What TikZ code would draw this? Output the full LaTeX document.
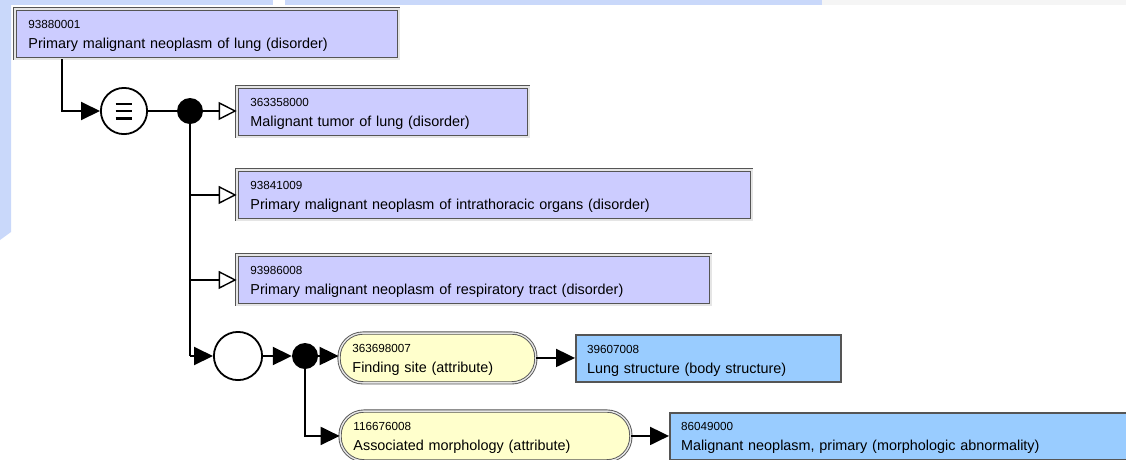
\documentclass[tikz,border=0pt]{standalone}
\usepackage{fontspec}
\setmainfont{Liberation Sans}
\usetikzlibrary{arrows.meta,positioning}
\definecolor{conceptfill}{HTML}{CCCCFF}
\definecolor{attrfill}{HTML}{FFFFCC}
\definecolor{valuefill}{HTML}{99CCFF}
\definecolor{framegray}{HTML}{555555}
\definecolor{bandblue}{HTML}{C9D8FA}
\newcommand{\idsize}{\fontsize{11.7}{20}\selectfont}
\newcommand{\sctlabel}[2]{\rule{0pt}{13pt}{\idsize #1}\\#2\rule[-3.5pt]{0pt}{3.5pt}}
\tikzset{
  sctbase/.style={anchor=north west, align=left, inner ysep=0pt, font=\fontsize{14.4}{20}\selectfont},
  concept/.style={sctbase, draw=framegray, double=black!10, double distance=1.4pt, line width=0.9pt,
    fill=conceptfill, inner xsep=13.4pt, minimum height=49.8pt, text width=#1},
  attribute/.style={sctbase, draw=framegray, double=black!10, double distance=1.4pt, line width=0.9pt,
    fill=attrfill, rounded corners=24pt, inner xsep=13.4pt, minimum height=49.8pt, text width=#1},
  valuebox/.style={sctbase, draw=framegray, line width=2pt, fill=valuefill, inner xsep=11pt,
    minimum height=47pt, text width=#1},
  opcircle/.style={circle, draw=black, line width=1.8pt, fill=white, minimum size=46.2pt, inner sep=0pt},
  joint/.style={circle, fill=black, minimum size=26pt, inner sep=0pt},
  conn/.style={line width=2pt},
  isa/.style={conn, -{Triangle[open, length=18pt, width=18pt, line width=1.4pt, fill=white]}},
  rel/.style={conn, -{Triangle[length=19pt, width=18pt]}}
}
\begin{document}
\begin{tikzpicture}[x=1pt,y=-1pt]
  \useasboundingbox (0,0) rectangle (1126,459);
  \clip (0,0) rectangle (1126,459);
  % window background
  \fill[bandblue] (0,0) -- (11,0) -- (11,232) -- (0,240) -- cycle;
  \fill[bandblue] (0,0) rectangle (273,5);
  \fill[bandblue] (285,0) rectangle (822,5);
  \fill[black!4] (822,0) rectangle (1126,5);

  % concepts
  \node[concept=357pt] (lungneo) at (14.6,8.6) {\sctlabel{93880001}{Primary malignant neoplasm of lung (disorder)}};
  \node[opcircle] (eqv) at (124,111) {};
  \foreach \dy in {-7.3,0,7.3}
    \draw[line width=2.4pt] ([xshift=-8.4pt,yshift=\dy pt]eqv.center) -- ([xshift=8.4pt,yshift=\dy pt]eqv.center);
  \node[joint] (isajoin) at (190,111) {};
  \node[concept=265pt] (maltumor) at (236.6,86.6) {\sctlabel{363358000}{Malignant tumor of lung (disorder)}};
  \node[concept=488pt] (intrathor) at (236.6,169.6) {\sctlabel{93841009}{Primary malignant neoplasm of intrathoracic organs (disorder)}};
  \node[concept=447pt] (resptract) at (236.6,254.6) {\sctlabel{93986008}{Primary malignant neoplasm of respiratory tract (disorder)}};

  % attribute group
  \node[opcircle, minimum size=48.2pt] (grp) at (238,356) {};
  \node[joint] (rolejoin) at (305,356) {};
  \node[attribute=170pt] (findsite) at (338.6,332.6) {\sctlabel{363698007}{Finding site (attribute)}};
  \node[valuebox=243pt] (lungstruct) at (575,334) {\sctlabel{39607008}{Lung structure (body structure)}};
  \node[attribute=264pt] (assocmorph) at (339.6,410.6) {\sctlabel{116676008}{Associated morphology (attribute)}};
  \node[valuebox=498pt] (malneo) at (669,411.5) {\sctlabel{86049000}{Malignant neoplasm, primary (morphologic abnormality)}};

  % connectors
  \draw[rel] ([xshift=47.4pt]lungneo.south west) |- (eqv);
  \draw[conn, line width=1.5pt] (eqv) -- (isajoin);
  \draw[isa] (isajoin) -- (isajoin -| maltumor.west);
  \draw[conn] (isajoin) -- (isajoin |- grp);
  \draw[isa] (isajoin |- intrathor.west) -- (intrathor.west);
  \draw[isa] (isajoin |- resptract.west) -- (resptract.west);
  \draw[rel] (isajoin |- grp) -- (grp);
  \draw[rel] (grp) -- (rolejoin);
  \draw[rel] (rolejoin) -- (rolejoin -| findsite.west);
  \draw[rel] (findsite.east) -- (findsite.east -| lungstruct.west);
  \draw[rel] (rolejoin) |- (assocmorph.west);
  \draw[rel] (assocmorph.east) -- (assocmorph.east -| malneo.west);
\end{tikzpicture}
\end{document}
